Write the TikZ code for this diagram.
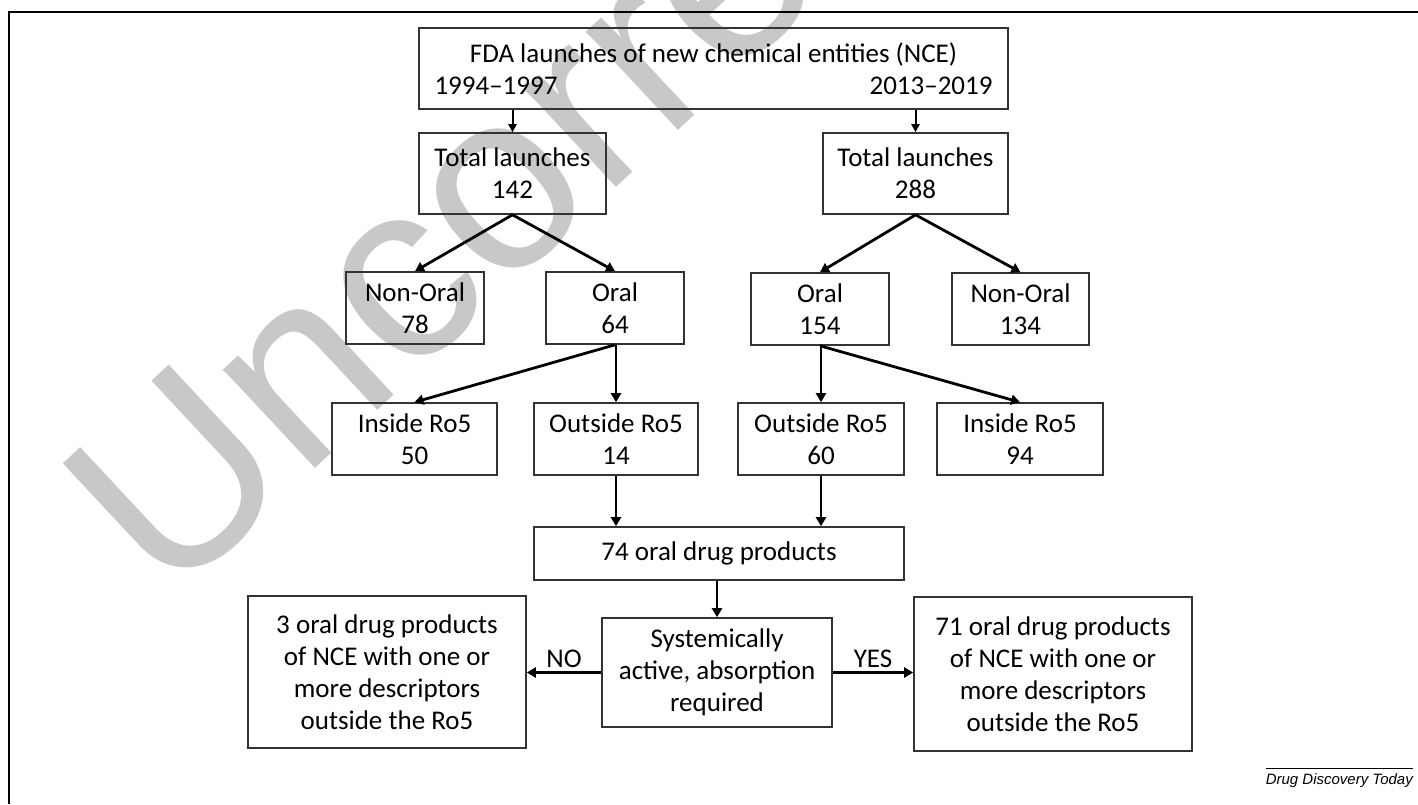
\documentclass[tikz,border=0pt]{standalone}
\usepackage{fontspec}
\setmainfont{Carlito}
\newfontfamily\wmfont{Liberation Sans}
\usetikzlibrary{arrows.meta}
\newcommand\bxfont{\fontsize{27}{32}\selectfont}
\definecolor{wmgray}{RGB}{200,200,200}
\begin{document}
\begin{tikzpicture}[x=1pt,y=-1pt,
  box/.style={draw=black!80, line width=1.6pt, inner sep=0pt, align=center, font=\bxfont},
  arr/.style={line width=2.8pt, -{Triangle[length=9pt,width=10pt]}},
  arrthin/.style={line width=2pt, -{Triangle[length=8pt,width=8pt]}},
  lbl/.style={font=\bxfont, inner sep=0pt},
]
\useasboundingbox (0,0) rectangle (1418,804);
% watermark
\node[anchor=base west, rotate=43, text=wmgray, inner sep=0pt, font=\wmfont\fontsize{255}{255}\selectfont] (wm) at (168,606) {Uncorrected};
% frame
\draw[line width=2pt] (9,804) -- (9,12) -- (1418,12);
% boxes
\node[box, minimum width=589pt, minimum height=81pt] (top) at (713.5,68.5)
  {FDA launches of new chemical entities (NCE)\\ \makebox[558pt]{1994--1997\hfill 2013--2019}};
\node[box, minimum width=187pt, minimum height=81pt] (t1) at (512.5,173.5) {Total launches\\142};
\node[box, minimum width=185pt, minimum height=81pt] (t2) at (915.5,173.5) {Total launches\\288};
\node[box, minimum width=138pt, minimum height=72pt] (no1) at (415,308) {Non-Oral\\78};
\node[box, minimum width=138pt, minimum height=72pt] (or1) at (615,308) {Oral\\64};
\node[box, minimum width=138pt, minimum height=72pt] (or2) at (820,309) {Oral\\154};
\node[box, minimum width=137pt, minimum height=72pt] (no2) at (1020.5,309) {Non-Oral\\134};
\node[box, minimum width=165pt, minimum height=72pt] (in1) at (414.5,439) {Inside Ro5\\50};
\node[box, minimum width=164pt, minimum height=72pt] (out1) at (616,439) {Outside Ro5\\14};
\node[box, minimum width=166pt, minimum height=72pt] (out2) at (821,439) {Outside Ro5\\60};
\node[box, minimum width=166pt, minimum height=72pt] (in2) at (1020,439) {Inside Ro5\\94};
\node[box, minimum width=370pt, minimum height=53pt] (p74) at (719,553.5) {74 oral drug products};
\node[box, minimum width=230pt, minimum height=109pt] (sys) at (717,672.5) {Systemically\\active, absorption\\required};
\node[box, minimum width=278pt, minimum height=152pt] (no3) at (387,672) {3 oral drug products\\of NCE with one or\\more descriptors\\outside the Ro5};
\node[box, minimum width=278pt, minimum height=154pt] (yes3) at (1053,674) {71 oral drug products\\of NCE with one or\\more descriptors\\outside the Ro5};
% connectors
\draw[arrthin] (t1.north |- top.south) -- (t1.north);
\draw[arrthin] (t2.north |- top.south) -- (t2.north);
\draw[arr] (t1.south) -- (no1.north);
\draw[arr] (t1.south) -- (or1.north);
\draw[arr] (t2.south) -- (or2.north);
\draw[arr] (t2.south) -- (no2.north);
\draw[arr] (or1.south) -- (in1.north);
\draw[arr] (out1.north |- or1.south) -- (out1.north);
\draw[arr] (out2.north |- or2.south) -- (out2.north);
\draw[arr] (or2.south) -- (in2.north);
\draw[arr] (out1.south) -- (out1.south |- p74.north);
\draw[arr] (out2.south) -- (out2.south |- p74.north);
\draw[arr] (sys.north |- p74.south) -- (sys.north);
\draw[arr] (sys.west) -- node[lbl, above=3pt] (lno) {NO} (no3.east |- sys.west);
\draw[arr] (sys.east) -- node[lbl, above=3pt] (lyes) {YES} (yes3.west |- sys.east);
% source
\node[anchor=north east, inner sep=0pt, font=\wmfont\itshape\fontsize{15}{15}\selectfont] (ddt) at (1413,773) {Drug Discovery Today};
\draw[line width=1pt] (ddt.north east) ++(0,-5) coordinate (ddtr) -- (ddtr -| ddt.north west);
\end{tikzpicture}
\end{document}
